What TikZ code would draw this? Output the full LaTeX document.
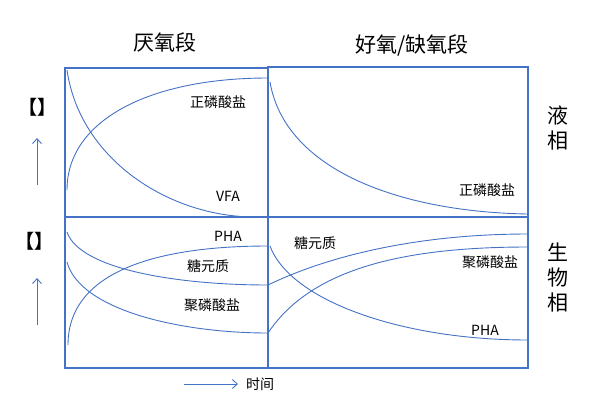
\documentclass[tikz,border=0pt]{standalone}
\usepackage{fontspec}
\setmainfont{Noto Sans CJK SC}
\usetikzlibrary{arrows.meta}
\begin{document}
\begin{tikzpicture}[x=1pt,y=-1pt,
  lab/.style={font=\fontsize{14}{14}\selectfont, inner sep=0pt},
  big/.style={font=\fontsize{21}{21}\selectfont, inner sep=0pt}]
\definecolor{bl}{HTML}{4472C4}
\tikzset{ln/.style={draw=bl, line width=1.1pt}, cv/.style={draw=bl, line width=0.9pt},
  ar/.style={draw=bl, line width=0.9pt, -{Straight Barb[length=5pt,width=9pt]}}}
\useasboundingbox (0,0) rectangle (600,413);
\draw[ln] (65,68) rectangle (268,368);
\draw[ln] (268,67) rectangle (528,368);
\draw[ln] (65,217) -- (528,217);
% curves
\draw[cv] (67,190) .. controls (67,120) and (150,78) .. (268,78);
\draw[cv] (67,70) .. controls (80,160) and (170,217) .. (255,217);
\draw[cv] (270,82) .. controls (285,170) and (400,212) .. (528,214);
\draw[cv] (67,232) .. controls (80,270) and (180,285) .. (268,285);
\draw[cv] (67,262) .. controls (80,310) and (180,333) .. (268,333);
\draw[cv] (68,345) .. controls (68,270) and (160,246) .. (268,246);
\draw[cv] (268,285) .. controls (330,255) and (420,234) .. (528,234);
\draw[cv] (268,333) .. controls (310,270) and (400,247) .. (528,247);
\draw[cv] (270,246) .. controls (290,300) and (400,340) .. (528,340);
% labels
\node[lab] (a1) at (218,102) {正磷酸盐};
\node[lab] (a2) at (228,196) {VFA};
\node[lab] (a3) at (487,190) {正磷酸盐};
\node[lab] (a4) at (228,236) {PHA};
\node[lab] (a5) at (208,266) {糖元质};
\node[lab] (a6) at (212,305) {聚磷酸盐};
\node[lab] (a7) at (315,243) {糖元质};
\node[lab] (a8) at (490,262) {聚磷酸盐};
\node[lab] (a9) at (485,330) {PHA};
\node[big] (t1) at (165,42) {厌氧段};
\node[big] (t2) at (412,45) {好氧/缺氧段};
\node[big, align=center] (t3) at (558,128) {液\\[4pt]相};
\node[big, align=center] (t4) at (558,278) {生\\[4pt]物\\[4pt]相};
\node[font=\bfseries\fontsize{19}{19}\selectfont, inner sep=0pt] (b1) at (38,107) {【】};
\node[font=\bfseries\fontsize{19}{19}\selectfont, inner sep=0pt] (b2) at (35,241) {【】};
\coordinate (u1a) at (37,185); \coordinate (u1b) at (37,138);
\coordinate (u2a) at (37,325); \coordinate (u2b) at (37,278);
\draw[ar] (u1a) -- (u1b);
\draw[ar] (u2a) -- (u2b);
\coordinate (r1) at (184,384); \coordinate (r2) at (238,384);
\draw[ar] (r1) -- (r2);
\node[lab] (tm) at (260,384) {时间};
\end{tikzpicture}
\end{document}
